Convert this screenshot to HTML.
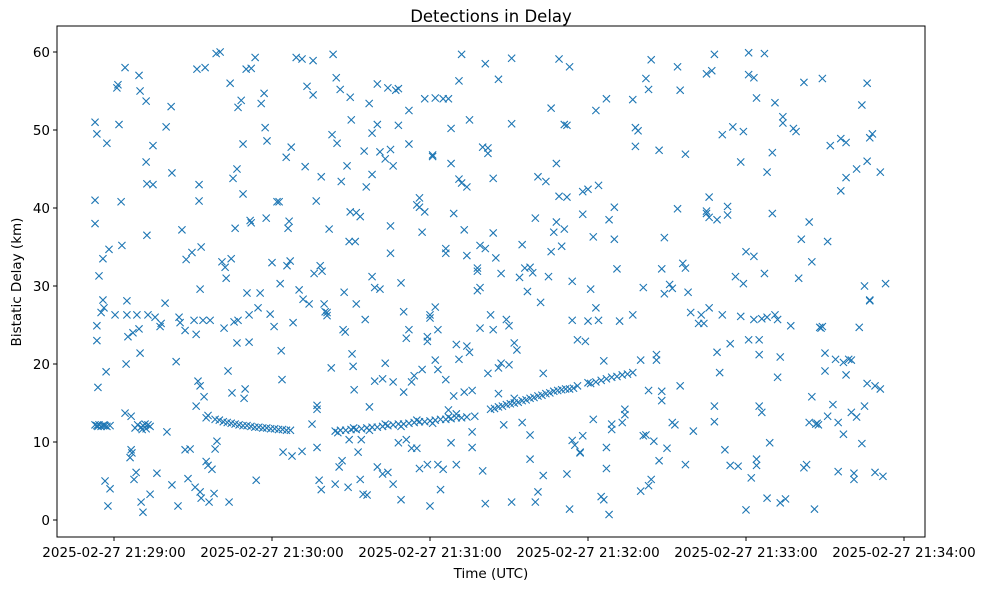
<!DOCTYPE html>
<html><head><meta charset="utf-8"><style>
html,body{margin:0;padding:0;background:#fff;}
svg{display:block;font-family:"DejaVu Sans","Liberation Sans",sans-serif;}
</style></head><body>
<svg id="chart" width="987" height="590" viewBox="0 0 987 590">
<rect x="0" y="0" width="987" height="590" fill="#fff"/>
<text x="491" y="22" text-anchor="middle" font-size="16.5" fill="#000">Detections in Delay</text>
<g id="marks"></g>
<g id="axes"></g>
<text x="491" y="578" text-anchor="middle" font-size="13.5">Time (UTC)</text>
<text transform="translate(21,282) rotate(-90)" text-anchor="middle" font-size="13.5">Bistatic Delay (km)</text>
</svg>
<script>
// seconds since 2025-02-27 21:29:00 UTC
const xTickSeconds = [0, 60, 120, 180, 240, 300];
const xTickLabels = ["2025-02-27 21:29:00","2025-02-27 21:30:00","2025-02-27 21:31:00","2025-02-27 21:32:00","2025-02-27 21:33:00","2025-02-27 21:34:00"];
const yTicks = [0, 10, 20, 30, 40, 50, 60];

const trackA = [[-7.2,12.2],[-6.5,12.1],[-6.1,12.0],[-5.7,12.2],[-4.9,12.0],[-4.2,12.1],[-3.8,12.2],[-3.4,12.1],[-2.7,12.0],[-1.5,12.1]];
const trackA2 = [[8,11.8],[9,12.2],[10.3,11.9],[10.7,11.6],[11,12.1],[11.8,12.3],[12.2,11.7],[12.9,12.2],[13.7,12.0]];
const trackB = [[35,13.1],[38.4,12.9],[40,12.8],[41.5,12.6],[43,12.5],[44.5,12.4],[46,12.3],[47.5,12.2],[49,12.1],[50.5,12.1],[52,12.0],[53.5,11.9],[55,11.9],[56.5,11.8],[58,11.8],[59.5,11.7],[61,11.7],[62.5,11.6],[64,11.6],[65.5,11.5],[67,11.5]];
const trackC = [[84,11.4],[85,11.2],[86,11.5],[88,11.5],[90,11.6],[91,11.8],[92,11.6],[94,11.7],[96,11.8],[97,11.5],[98,11.9],[100,11.9],[102,12.0],[103,12.3],[104,12.1],[106,12.2],[108,12.3],[109,12.0],[110,12.3],[112,12.4],[114,12.5],[115,12.8],[116,12.6],[118,12.6],[120,12.7],[121,12.4],[122,12.8],[124,12.9],[126,12.9],[127,13.2],[128,13.0],[130,13.1],[132,13.1],[134,13.2]];
const trackD = [[143,14.2],[144.5,14.3],[146,14.5],[147.5,14.6],[149,14.8],[150.5,14.9],[152,15.0],[153.5,15.1],[155,15.3],[156.5,15.4],[158,15.6],[159.5,15.7],[161,15.9],[162.5,16.0],[164,16.2],[165.5,16.3],[167,16.5],[168.5,16.6],[170,16.7],[171.5,16.8],[173,16.8],[174.5,16.9]];
const trackE = [[181,17.5],[183,17.7],[185,17.9],[187,18.1],[189,18.3],[191,18.4],[193,18.6],[195,18.7],[197,18.9]];
const scatter = [
[-7.2,51],[-7.2,38],[-7.2,41],[-6.5,49.5],[-6.5,24.9],[-6.5,23],[-6.1,17],[-5.7,31.3],[-4.9,26.6],[-4.2,28.2],[-4.2,33.5],[-3.8,27.2],[-3,19],[-2.7,48.3],[-1.9,34.7],[-3.4,5],[-2.3,1.8],[-1.5,4],[0.4,26.3],[1.1,55.4],[1.5,55.8],[1.9,50.7],[2.7,40.8],[3,35.2],[4.2,58],[4.9,28.1],[4.9,26.3],[4.6,20],[4.2,13.7],[5.3,23.5],[6.1,8],[6.5,9],[6.5,13.3],[6.8,8.6],[7.2,24],[7.6,5.2],[8.4,6.1],[8.7,26.3],[9.5,57],[9.5,24.5],[9.9,55],[9.9,21.4],[10.3,2.3],[11,1.0],[12.2,53.7],[12.2,45.9],[12.5,43.1],[12.5,36.5],[12.9,26.3],[13.7,3.3],[14.8,43],[14.8,48],[15.6,26],[16.3,6],[17.5,24.8],[17.9,25.2],[19.4,27.8],[19.8,50.4],[20.1,11.3],[21.7,53],[22,44.5],[22,4.5],[23.6,20.3],[24.3,1.8],[24.7,26],[25.1,25.3],[25.8,37.2],[27,24.3],[27,9],[27.4,33.4],[28.1,5.3],[28.9,9.1],[29.6,34.3],[30.4,25.6],[30.8,4.2],[31.2,23.8],[31.2,14.6],[31.5,57.8],[31.9,17.8],[32.3,40.9],[32.3,43],[32.7,29.6],[32.7,17.2],[32.7,3.6],[33.1,35],[33.1,2.8],[33.8,25.6],[34.2,15.8],[34.6,58],[35,7.5],[35.7,13.4],[35.7,7],[36.1,2.3],[36.5,25.6],[37.2,6.5],[38,3.4],[38.4,9.1],[38.8,59.8],[39.1,10.1],[40.3,60],[41,33.1],[41.8,24.6],[42.2,32.4],[42.6,31],[43.3,19.1],[43.7,2.3],[44.1,56],[44.5,33.5],[44.8,16.3],[45.2,43.8],[45.6,25.4],[46,37.4],[46.7,45],[46.7,22.7],[47.1,25.6],[47.1,52.9],[48.3,53.8],[49,48.2],[49,41.8],[49.4,15.6],[49.8,16.8],[50.2,57.8],[50.5,29.1],[51.3,26.3],[51.3,22.8],[51.7,38.4],[52.1,57.9],[52.1,38.1],[53.6,59.3],[54,5.1],[54.7,27.2],[55.5,29.1],[55.9,53.4],[57,54.7],[57.4,50.3],[57.8,38.7],[58.1,48.6],[59.3,26.4],[60,33],[60.8,24.8],[61.9,40.8],[62.7,40.8],[63.1,30.3],[63.5,21.7],[63.8,18],[64.2,8.7],[65.4,46.5],[65.7,32.6],[66.1,37.4],[66.5,38.3],[66.9,33.2],[67.3,47.8],[67.6,8.2],[68,25.3],[69.2,59.3],[70.3,29.5],[71.4,59.1],[71.4,8.8],[71.8,28.3],[72.6,45.3],[73.3,55.6],[74.1,27.7],[75.2,12.3],[75.6,58.9],[75.6,54.5],[76,31.6],[76.8,40.9],[77.1,9.3],[77.1,14.7],[77.1,14.2],[77.9,5.1],[78.7,3.9],[78.3,32.6],[78.7,44],[79,31.9],[79.8,27.7],[80.2,26.7],[80.9,26.2],[80.9,26.6],[81.7,37.3],[82.5,19.5],[82.8,49.4],[83.2,59.7],[84,4.6],[84.4,56.7],[84.7,48.3],[85.5,6.8],[85.9,55.2],[86.3,43.4],[86.6,7.6],[87,24.4],[87.4,29.2],[87.8,24.1],[88.5,45.4],[88.9,4.2],[89.3,35.7],[89.3,10.3],[89.7,54.2],[89.7,39.5],[90.1,51.3],[90.4,21.3],[90.8,19.7],[91.2,16.7],[91.6,35.7],[92,39.4],[92,27.7],[92.7,8.7],[93.5,5.2],[93.5,38.9],[93.9,10.3],[94.6,3.3],[95,47.3],[95.4,25.7],[95.8,42.7],[96.1,3.2],[96.9,53.4],[97,14.5],[98,31.2],[98,49.6],[98,44.3],[99,17.8],[99,29.8],[100,6.8],[100,55.9],[100,50.7],[101,29.6],[101,47.2],[102,5.9],[102,18.1],[103,20.1],[103,46.3],[104,55.4],[104,6.1],[105,37.7],[105,34.2],[105,47.5],[106,17.7],[106,45.4],[106,4.6],[107,55.1],[108,50.6],[108,9.9],[108,55.3],[109,2.6],[109,30.4],[110,16.4],[110,26.7],[111,23.3],[111,10.3],[112,48.2],[112,52.5],[112,24.4],[113,17.7],[113,9.2],[114,18.5],[115,9.2],[115,40.4],[116,6.6],[116,40.1],[116,41.3],[117,36.9],[117,19.3],[118,54],[118,39.5],[119,7.1],[119,22.9],[119,23.5],[120,25.9],[120,1.8],[120,26.3],[121,46.6],[121,46.8],[122,20.5],[122,54.1],[122,27.3],[123,24.4],[123,7.1],[123,19.3],[124,3.9],[125,54],[125,6.5],[126,34.2],[126,18],[126,34.8],[127,14.1],[127,54],[128,9.9],[128,45.7],[128,50.2],[129,15.9],[129,39.3],[130,7.1],[130,22.5],[130,13.6],[131,56.3],[131,43.7],[131,20.6],[132,59.7],[132,43.2],[133,37.2],[133,16.4],[134,42.7],[134,22.3],[134,33.9],[135,51.3],[135,21.5],[136,9.3],[136,16.6],[136,11.3],[137,13.3],[138,32.3],[138,29.4],[138,31.9],[139,35.2],[139,24.6],[139,29.8],[140,47.8],[140,6.3],[141,58.5],[141,2.1],[141,34.8],[142,47.7],[142,18.8],[142,47],[143,26.3],[144,43.8],[144,24.4],[144,36.8],[145,33.6],[146,16.2],[146,19.5],[146,56.5],[147,31.6],[147,20.1],[148,12.2],[149,25.7],[150,19.9],[150,24.9],[151,59.2],[151,50.8],[151,2.3],[152,22.7],[152,15.6],[153,21.8],[154,31.1],[155,35.3],[155,12.5],[156,32.3],[157,29.3],[158,7.8],[158,10.9],[158,32.4],[159,31.7],[160,2.3],[160,38.7],[161,44],[161,3.6],[162,27.9],[163,18.8],[163,5.7],[164,43.4],[165,31.2],[166,52.8],[166,34.4],[167,36.9],[168,45.7],[168,38.2],[169,59.1],[169,41.5],[170,35.1],[171,37.3],[171,50.7],[172,50.6],[172,41.4],[172,5.9],[173,58.1],[173,1.4],[174,10.2],[174,30.6],[174,25.6],[175,9.6],[176,23.1],[176,17.2],[177,8.7],[177,8.6],[178,10.8],[178,39.2],[178,42.1],[179,22.9],[180,17.6],[180,25.5],[180,42.4],[181,29.6],[182,12.9],[182,36.3],[183,52.5],[183,27.2],[184,25.6],[184,42.9],[185,3],[186,20.4],[186,2.6],[187,9.3],[187,54],[187,6.6],[188,38.5],[188,0.7],[189,11.6],[189,12.3],[190,40.1],[190,36],[191,32.2],[192,25.5],[193,12.5],[194,13.5],[194,14.2],[197,53.9],[197,26.3],[198,47.9],[198,50.3],[199,49.9],[200,3.7],[200,20.5],[201,29.8],[201,10.8],[202,56.6],[202,10.9],[203,16.6],[203,4.4],[203,55.2],[204,59],[204,5.2],[205,10.1],[206,21.2],[206,20.5],[207,7.6],[207,47.4],[208,16.5],[208,15.3],[208,32.2],[209,36.2],[209,29],[210,9.2],[211,30.2],[212,12.5],[212,29.7],[213,12.2],[214,39.9],[214,58.1],[215,17.2],[215,55.1],[216,32.9],[217,32.3],[217,7.1],[217,46.9],[218,29.2],[219,26.6],[220,11.4],[222,25.2],[223,26.3],[224,25.2],[225,57.2],[225,39.3],[225,39.6],[226,41.4],[226,27.2],[226,38.8],[227,57.6],[228,59.7],[228,14.6],[228,12.6],[229,38.5],[229,21.5],[230,18.9],[231,26.3],[231,49.4],[232,9],[233,40.2],[233,39.1],[234,22.6],[234,7],[235,50.4],[236,31.2],[237,6.9],[238,26.1],[238,45.9],[239,49.8],[239,30.3],[240,34.4],[240,1.3],[241,23.1],[241,59.9],[241,57.1],[242,5.4],[243,33.8],[243,25.7],[243,56.7],[244,54.1],[244,7.8],[244,7],[245,23.1],[245,21.2],[245,14.6],[246,13.8],[246,25.8],[247,59.8],[247,31.6],[248,26],[248,44.6],[248,2.8],[249,9.9],[250,39.3],[250,47.1],[251,26.3],[251,53.5],[252,18.3],[252,25.7],[253,20.9],[253,2.2],[254,51.7],[254,50.9],[255,2.7],[257,24.9],[258,50.2],[259,49.8],[260,31],[261,36],[262,6.7],[262,56.1],[263,7.1],[264,12.5],[264,38.2],[265,33.1],[265,15.8],[266,1.4],[267,12.4],[268,24.7],[268.5,24.6],[269,24.8],[269,56.6],[270,19.1],[270,21.4],[271,35.7],[271,13.3],[272,48],[273,14.8],[274,20.6],[275,12.5],[275,6.2],[276,42.2],[276,48.9],[277,20.2],[277,11],[278,43.9],[278,48.4],[278,18.6],[279,20.6],[280,20.5],[280,13.8],[281,5.2],[281,6],[282,45],[282,13.2],[283,24.7],[284,9.8],[284,53.2],[285,30],[285,14.6],[286,46],[286,56],[286,17.5],[287,28.2],[287,49],[287,28.1],[288,49.5],[289,17.2],[289,6.1],[291,16.8],[291,44.6],[292,5.6],[293,30.3],[266.5,12.3],[267.5,12.2]
];

const L=57, R=925, T=26, B=537;
const xScale = s => 114 + s * (158/60);
const yScale = d => 520 - d * 7.8;
const NS="http://www.w3.org/2000/svg";
const marks=document.getElementById('marks');
const axes=document.getElementById('axes');
function mk(tag, attrs, parent){const e=document.createElementNS(NS,tag);for(const k in attrs)e.setAttribute(k,attrs[k]);parent.appendChild(e);return e;}

function drawX(pt){
  const cx=xScale(pt[0]), cy=yScale(pt[1]), r=3.6;
  const p=mk('path',{d:`M${cx-r},${cy-r}L${cx+r},${cy+r}M${cx-r},${cy+r}L${cx+r},${cy-r}`,stroke:'#1f77b4','stroke-width':1.1,fill:'none'},marks);
  
  
}
[scatter, trackA, trackA2, trackB, trackC, trackD, trackE].forEach(arr=>arr.forEach(drawX));

const frame=mk('rect',{x:L,y:T,width:R-L,height:B-T,fill:'none',stroke:'#000','stroke-width':1},axes);



yTicks.forEach(v=>{
  const y=yScale(v);
  const t=mk('line',{x1:L-4,x2:L,y1:y,y2:y,stroke:'#000'},axes);
  
  
  const lb=mk('text',{x:L-7,y:y+5,'text-anchor':'end','font-size':13.5},axes);
  lb.textContent=v;
  
  
});
xTickSeconds.forEach((s,i)=>{
  const x=xScale(s);
  const t=mk('line',{x1:x,x2:x,y1:B,y2:B+4,stroke:'#000'},axes);
  
  
  const lb=mk('text',{x:x,y:B+20,'text-anchor':'middle','font-size':13.5},axes);
  lb.textContent=xTickLabels[i];
  
  
});
</script>
</body></html>
